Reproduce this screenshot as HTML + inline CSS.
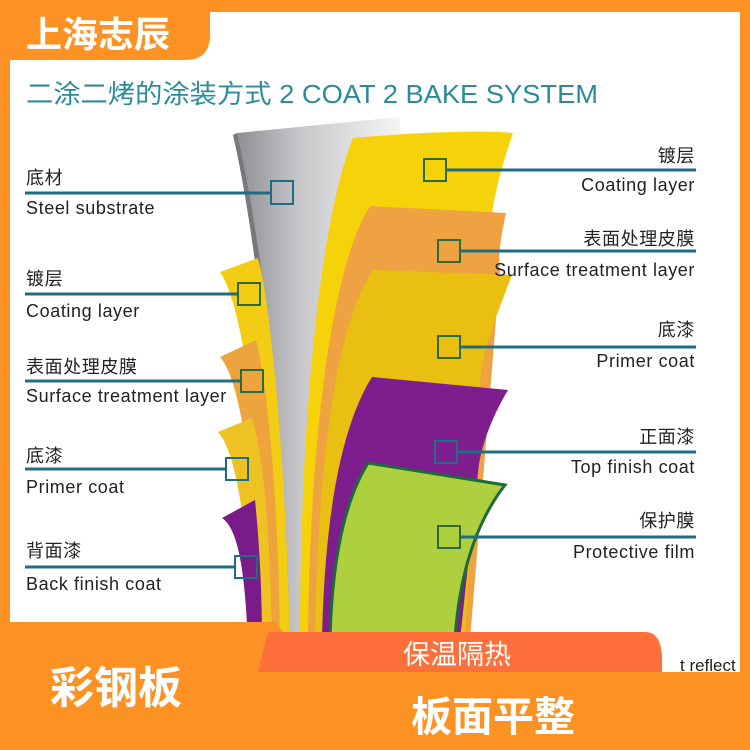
<!DOCTYPE html>
<html><head><meta charset="utf-8"><style>
body{margin:0;width:750px;height:750px;overflow:hidden;background:#fb9223;font-family:"Liberation Sans","Noto Sans CJK SC",sans-serif}
svg{position:absolute;left:0;top:0}
</style></head><body>
<svg width="750" height="750" viewBox="0 0 750 750">
<defs>
<linearGradient id="gr" x1="0" x2="1"><stop offset="0" stop-color="#8f8f94"/><stop offset="0.4" stop-color="#c9c9cc"/><stop offset="1" stop-color="#f4f4f4"/></linearGradient>
</defs>
<rect x="10" y="12" width="730" height="660" fill="#fff"/>
<path d="M237,133 L400,117 L395,640 L290,640 C285,420 260,230 237,133Z" fill="url(#gr)"/>
<path d="M237,133 C260,230 285,420 290,640 L284,640 C278,420 255,230 233,135Z" fill="#77777c"/>
<path d="M220,272 C240,300 262,420 268,640 L290,640 C285,450 270,300 258,258 Z" fill="#f2cd14"/>
<path d="M220,357 C240,380 255,470 260,640 L280,640 C278,480 266,380 256,340 Z" fill="#eea43c"/>
<path d="M218,432 C235,450 248,520 252,640 L272,640 C270,520 262,450 252,418 Z" fill="#eec222"/>
<path d="M222,518 C240,530 245,580 248,640 L262,640 C262,580 258,530 255,500 Z" fill="#7a1b8a"/>
<path d="M353,138 C420,132 480,130 513,133 C500,170 490,210 490,240 L470,640 L300,640 C300,420 320,220 353,138Z" fill="#f5d20a"/>
<path d="M370,206 L506,213 C500,240 498,260 500,270 L470,640 L308,640 C310,420 335,260 370,206Z" fill="#efa241"/>
<path d="M373,270 L512,275 C495,320 482,350 480,385 L465,640 L315,640 C318,440 340,320 373,270Z" fill="#e9bf12"/>
<path d="M372,377 L508,390 C490,420 480,450 478,472 L460,640 L322,640 C325,500 345,420 372,377Z" fill="#7e1d8e"/>
<path d="M368,463 L505,485 C470,530 458,590 455,640 L330,640 C332,560 345,500 368,463Z" fill="#aecf3e" stroke="#1d6a3b" stroke-width="3"/>
<g stroke="#1f6d85" stroke-width="3" fill="none">
<line x1="25" y1="193" x2="271" y2="193"/><rect x="271" y="181" width="22" height="23" stroke-width="2"/>
<line x1="25" y1="294" x2="238" y2="294"/><rect x="238" y="283" width="22" height="22" stroke-width="2" stroke="#2b6b40"/>
<line x1="25" y1="381" x2="241" y2="381"/><rect x="241" y="370" width="22" height="22" stroke-width="2" stroke="#2b6b40"/>
<line x1="25" y1="469" x2="226" y2="469"/><rect x="226" y="458" width="22" height="22" stroke-width="2"/>
<line x1="25" y1="567" x2="235" y2="567"/><rect x="235" y="556" width="22" height="22" stroke-width="2"/>
<line x1="446" y1="170" x2="696" y2="170"/><rect x="424" y="159" width="22" height="22" stroke-width="2" stroke="#2b6b40"/>
<line x1="460" y1="251" x2="696" y2="251"/><rect x="438" y="240" width="22" height="22" stroke-width="2" stroke="#2b6b40"/>
<line x1="460" y1="347" x2="696" y2="347"/><rect x="438" y="336" width="22" height="22" stroke-width="2" stroke="#2b6b40"/>
<line x1="457" y1="452" x2="696" y2="452"/><rect x="435" y="441" width="22" height="22" stroke-width="2"/>
<line x1="460" y1="537" x2="696" y2="537"/><rect x="438" y="526" width="22" height="22" stroke-width="2" stroke="#2b6b40"/>
</g>
<g font-size="18" fill="#222" letter-spacing="0.6">
<text x="26" y="184">底材</text><text x="26" y="214">Steel substrate</text>
<text x="26" y="285">镀层</text><text x="26" y="317">Coating  layer</text>
<text x="26" y="373">表面处理皮膜</text><text x="26" y="402">Surface treatment layer</text>
<text x="26" y="462">底漆</text><text x="26" y="493">Primer  coat</text>
<text x="26" y="557">背面漆</text><text x="26" y="590">Back  finish  coat</text>
</g>
<g font-size="18" fill="#222" text-anchor="end" letter-spacing="0.6">
<text x="695" y="162">镀层</text><text x="695" y="191">Coating  layer</text>
<text x="695" y="245">表面处理皮膜</text><text x="695" y="276">Surface treatment layer</text>
<text x="695" y="336">底漆</text><text x="695" y="367">Primer  coat</text>
<text x="695" y="443">正面漆</text><text x="695" y="473">Top  finish  coat</text>
<text x="695" y="527">保护膜</text><text x="695" y="558">Protective  film</text>
</g>
<text x="26" y="103" font-size="26" fill="#2a8c9a" textLength="572" lengthAdjust="spacingAndGlyphs">二涂二烤的涂装方式 2 COAT 2 BAKE SYSTEM</text>
<text x="680" y="671" font-size="17" fill="#222">t reflect</text>
<path d="M0,0 H210 V35 Q210,60 185,60 H0Z" fill="#fb9223"/>
<text x="26" y="47" font-size="36" font-weight="bold" fill="#fff">上海志辰</text>
<path d="M0,622 H275 L290,640 L270,680 H0Z" fill="#fb9223"/>
<path d="M268,632 H645 Q662,632 662,660 V672 H258Z" fill="#fd6f3b"/>
<rect x="0" y="672" width="750" height="78" fill="#fb9223"/>
<text x="403" y="664" font-size="27" fill="#fff">保温隔热</text>
<text x="50" y="703" font-size="44" font-weight="bold" fill="#fff">彩钢板</text>
<text x="411" y="731" font-size="41" font-weight="bold" fill="#fff">板面平整</text>
</svg>
</body></html>
